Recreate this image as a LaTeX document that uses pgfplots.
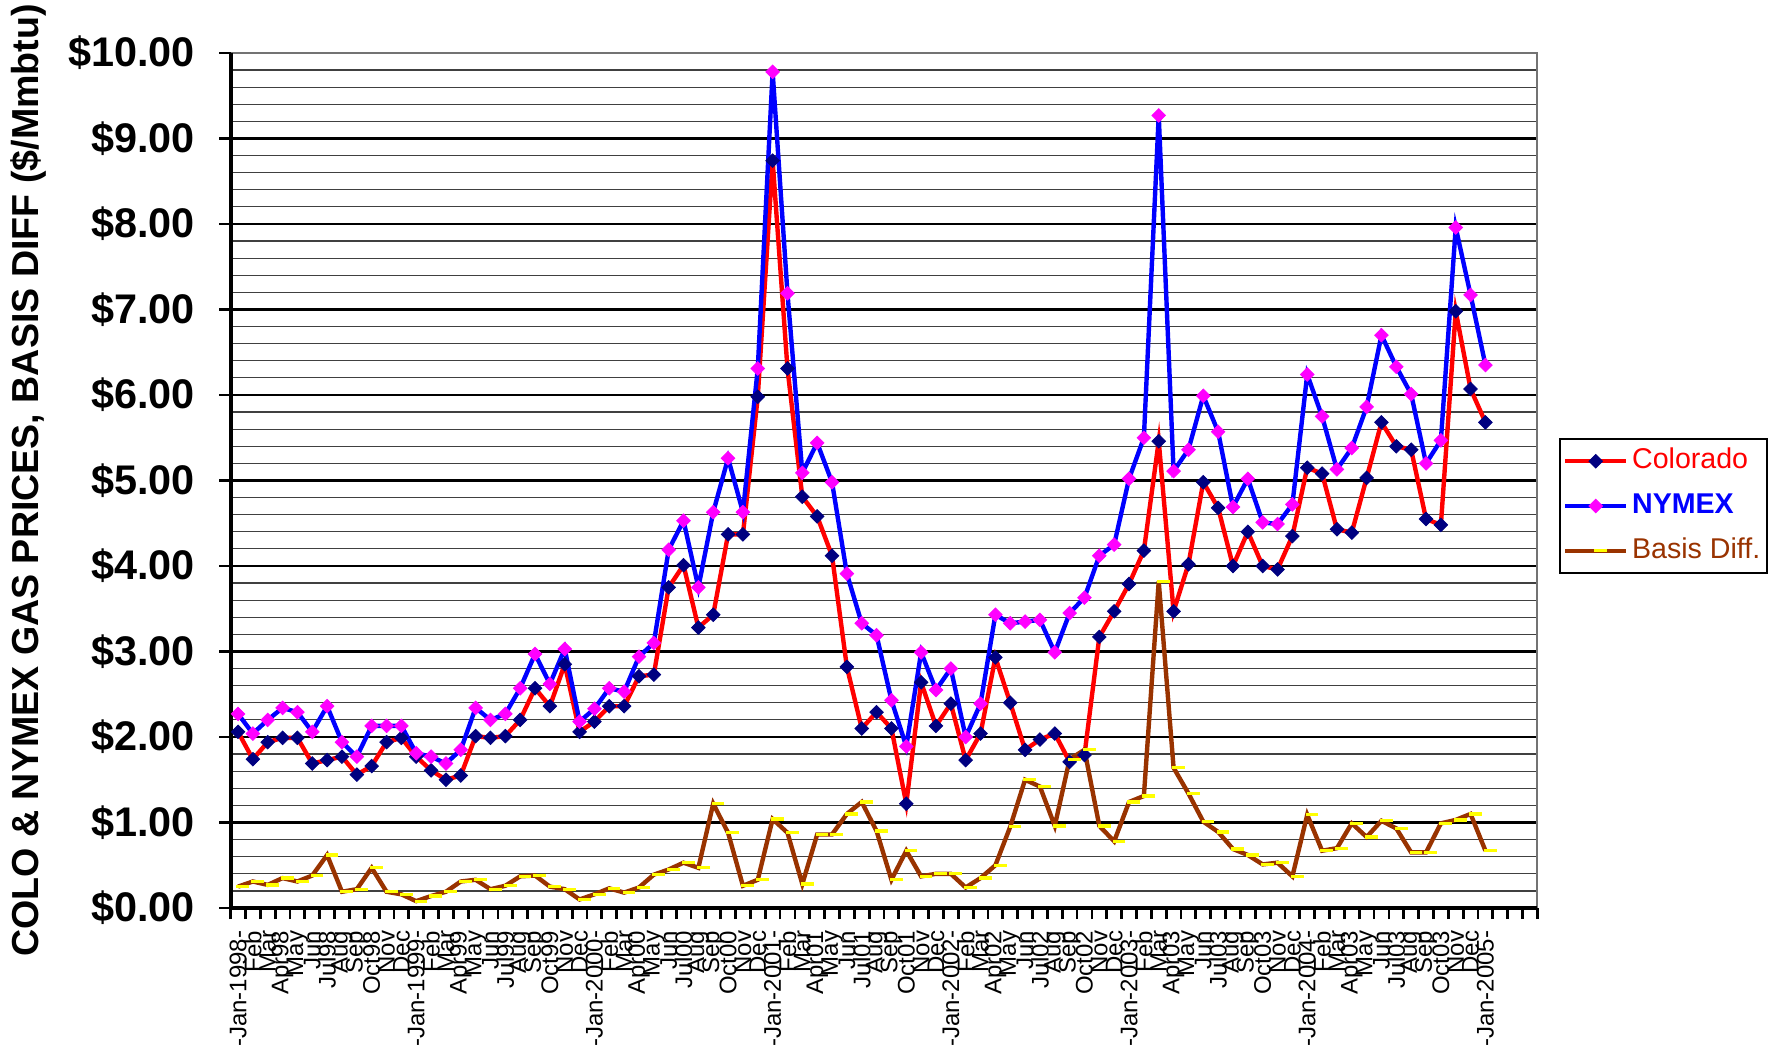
\documentclass[border=0pt]{standalone}
\usepackage{fontspec}
\setmainfont{Liberation Sans}
\usepackage{pgfplots}
\usepackage{pgfplotstable}
\pgfplotsset{compat=1.18}

\definecolor{cored}{HTML}{FF0000}
\definecolor{nyblue}{HTML}{0000FF}
\definecolor{navy}{HTML}{000080}
\definecolor{magent}{HTML}{FF00FF}
\definecolor{basisbrown}{HTML}{993300}
\definecolor{dashyellow}{HTML}{FFFF00}

% month index, Colorado, NYMEX, basis differential ($/Mmbtu)
\pgfplotstableread{
i colo nymex basis
0 2.06 2.27 0.25
1 1.74 2.04 0.31
2 1.94 2.20 0.27
3 1.99 2.34 0.35
4 1.99 2.29 0.31
5 1.69 2.06 0.38
6 1.73 2.36 0.62
7 1.77 1.94 0.19
8 1.56 1.77 0.22
9 1.66 2.13 0.47
10 1.94 2.13 0.19
11 1.99 2.13 0.16
12 1.77 1.81 0.08
13 1.61 1.77 0.14
14 1.50 1.69 0.19
15 1.55 1.85 0.31
16 2.01 2.34 0.33
17 1.99 2.20 0.22
18 2.01 2.27 0.26
19 2.20 2.57 0.37
20 2.57 2.97 0.38
21 2.36 2.62 0.25
22 2.85 3.03 0.22
23 2.06 2.18 0.10
24 2.18 2.33 0.16
25 2.36 2.57 0.23
26 2.36 2.53 0.18
27 2.71 2.94 0.24
28 2.73 3.10 0.39
29 3.75 4.19 0.45
30 4.01 4.53 0.53
31 3.28 3.75 0.47
32 3.43 4.63 1.22
33 4.37 5.26 0.88
34 4.37 4.63 0.26
35 5.98 6.31 0.33
36 8.74 9.78 1.04
37 6.31 7.19 0.88
38 4.81 5.09 0.28
39 4.58 5.44 0.86
40 4.12 4.98 0.86
41 2.82 3.91 1.10
42 2.10 3.33 1.24
43 2.29 3.19 0.90
44 2.10 2.43 0.33
45 1.22 1.89 0.67
46 2.64 2.99 0.37
47 2.13 2.55 0.40
48 2.39 2.80 0.40
49 1.73 2.00 0.24
50 2.04 2.39 0.35
51 2.93 3.43 0.50
52 2.40 3.33 0.95
53 1.85 3.35 1.50
54 1.97 3.37 1.42
55 2.04 2.99 0.96
56 1.71 3.45 1.74
57 1.79 3.63 1.85
58 3.17 4.12 0.96
59 3.47 4.25 0.78
60 3.79 5.02 1.24
61 4.18 5.50 1.31
62 5.46 9.27 3.82
63 3.47 5.11 1.64
64 4.02 5.36 1.34
65 4.98 5.99 1.01
66 4.68 5.57 0.89
67 4.00 4.69 0.69
68 4.40 5.02 0.62
69 4.00 4.51 0.51
70 3.96 4.49 0.53
71 4.35 4.72 0.37
72 5.15 6.24 1.09
73 5.08 5.75 0.67
74 4.43 5.13 0.70
75 4.39 5.38 0.99
76 5.03 5.86 0.83
77 5.68 6.70 1.02
78 5.40 6.33 0.93
79 5.36 6.01 0.65
80 4.55 5.20 0.65
81 4.48 5.47 0.99
82 6.98 7.96 1.03
83 6.07 7.17 1.10
84 5.68 6.35 0.67
}\gasdata

\begin{document}
\begin{tikzpicture}
\begin{axis}[
  set layers, mark layer=axis foreground,
  scale only axis, width=326.7pt, height=213.75pt,
  at={(0pt,0pt)}, anchor=south west,
  clip=false,
  xmin=-0.5, xmax=87.5, ymin=0, ymax=10,
  axis line style={draw=none},
  tick pos=left, tick align=outside,
  major tick length=2.8pt, minor tick length=0pt,
  tick style={line width=0.7pt, black},
  xtick={-0.5,0.5,...,87.5}, xticklabels={},
  extra x ticks={0,1,...,84},
  extra x tick style={major tick length=0pt},
  extra x tick labels={-Jan-1998-,Feb,Mar,Apr98,May,Jun,Jul98,Aug,Sep,Oct98,Nov,Dec,
    -Jan-1999-,Feb,Mar,Apr99,May,Jun,Jul99,Aug,Sep,Oct99,Nov,Dec,
    -Jan-2000-,Feb,Mar,Apr00,May,Jun,Jul00,Aug,Sep,Oct00,Nov,Dec,
    -Jan-2001-,Feb,Mar,Apr01,May,Jun,Jul01,Aug,Sep,Oct01,Nov,Dec,
    -Jan-2002-,Feb,Mar,Apr02,May,Jun,Jul02,Aug,Sep,Oct02,Nov,Dec,
    -Jan-2003-,Feb,Mar,Apr03,May,Jun,Jul03,Aug,Sep,Oct03,Nov,Dec,
    -Jan-2004-,Feb,Mar,Apr03,May,Jun,Jul03,Aug,Sep,Oct03,Nov,Dec,
    -Jan-2005-},
  xticklabel style={rotate=90, anchor=east, inner sep=0pt,
    font=\fontsize{6pt}{6.5pt}\selectfont},
  xticklabel shift=5.5pt,
  ytick={0,1,...,10},
  yticklabels={\$0.00,\$1.00,\$2.00,\$3.00,\$4.00,\$5.00,\$6.00,\$7.00,\$8.00,\$9.00,\$10.00},
  minor ytick={0,0.2,...,10},
  yticklabel style={anchor=east, inner sep=0pt,
    font=\bfseries\fontsize{10.35pt}{12pt}\selectfont},
  yticklabel shift=5.9pt,
  ymajorgrids=true, yminorgrids=true,
  major grid style={line width=0.67pt, black},
  minor grid style={line width=0.3pt, black!75},
  ylabel={COLO \& NYMEX GAS PRICES, BASIS DIFF (\$/Mmbtu)},
  every axis y label/.style={at={(axis description cs:-0.155,0.5)}, rotate=90,
    anchor=center, font=\bfseries\fontsize{9.4pt}{11pt}\selectfont},
  legend style={at={(rel axis cs:1.0166,0.5497)}, anchor=north west,
    draw=black, line width=0.4pt, inner xsep=0.8pt, inner ysep=0pt,
    nodes={inner xsep=0.9pt, inner ysep=2.4pt, text height=5pt, text depth=1.4pt},
    font=\fontsize{7.15pt}{8pt}\selectfont, cells={anchor=west}},
  legend image code/.code={
    \draw[#1] (0pt,0pt) -- (15.25pt,0pt);
    \draw[#1] plot coordinates {(7.6pt,0pt)};
  },
]
\addplot[color=cored, line width=1.1pt, mark=square*, mark size=1.2pt,
  mark options={rotate=45, fill=navy, draw=navy, line width=0.2pt, solid}]
  table[x=i, y=colo] {\gasdata};
\addlegendentry{\textcolor{cored}{Colorado}}
\addplot[color=nyblue, line width=1.1pt, mark=square*, mark size=1.2pt,
  mark options={rotate=45, fill=magent, draw=magent, line width=0.2pt, solid}]
  table[x=i, y=nymex] {\gasdata};
\addlegendentry{\textcolor{nyblue}{\bfseries NYMEX}}
\addplot[color=basisbrown, line width=1.1pt, mark=-, mark size=1.6pt,
  mark options={draw=dashyellow, line width=0.8pt, xshift=1.2pt, solid}]
  table[x=i, y=basis] {\gasdata};
\addlegendentry{\textcolor{basisbrown}{Basis Diff.}}
\draw[black!55, line width=0.5pt] (rel axis cs:0,1) -- (rel axis cs:1,1) -- (rel axis cs:1,0);
\draw[black, line width=1pt] (rel axis cs:0,1) -- (rel axis cs:0,0) -- (rel axis cs:1,0);
\end{axis}
\pgfresetboundingbox
\useasboundingbox (-57.65pt,-35pt) rectangle (386.1pt,227pt);
\end{tikzpicture}
\end{document}
